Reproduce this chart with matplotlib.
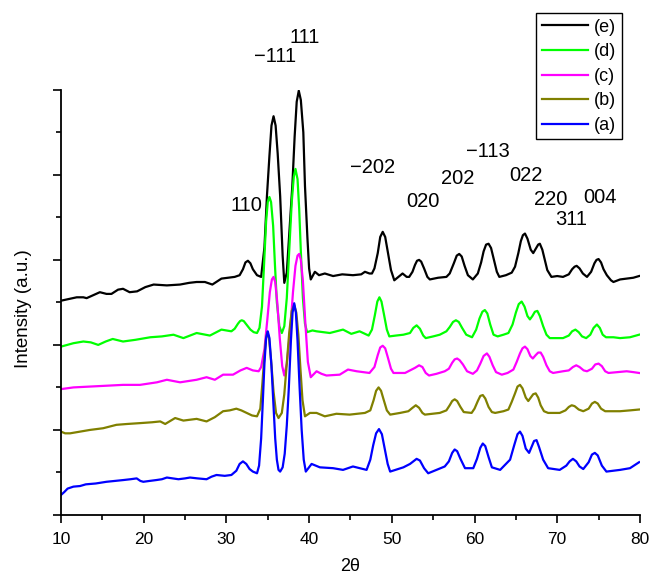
import matplotlib.pyplot as plt
from matplotlib.ticker import MultipleLocator

plt.rcParams['font.family'] = ['Liberation Sans', 'DejaVu Sans']

# (e)
x_e = [10, 11.9, 12.7, 13.1, 14.7, 15.5, 16.1, 16.9, 17.5, 18.3, 19.2, 20.2, 21.2, 22.8, 24.4, 25.5,
       26.4, 27.4, 28.3, 29.4, 31.0, 31.6, 32.0, 32.3, 32.6, 32.9, 33.2, 33.7, 34.2,
       34.6, 34.9, 35.2, 35.45, 35.7, 35.95, 36.2, 36.5, 36.8, 37.0,
       37.3, 37.6, 37.97, 38.25, 38.5, 38.75, 39.0, 39.3, 39.5, 39.8, 40.0, 40.2,
       40.7, 41.2, 41.9, 42.9, 44.0, 45.3, 46.3, 46.75, 47.3, 47.6,
       47.9, 48.3, 48.6, 48.9, 49.2, 49.5, 49.9, 50.3, 50.8, 51.3, 51.8, 52.1,
       52.5, 52.8, 53.05, 53.3, 53.55, 53.9, 54.3, 54.6, 55.6, 56.6,
       57.0, 57.5, 57.85, 58.15, 58.45, 58.8, 59.2, 59.8,
       60.4, 60.8, 61.1, 61.4, 61.7, 62.0, 62.3, 62.7, 63.0, 63.8, 64.5,
       64.9, 65.3, 65.6, 65.85, 66.1, 66.4, 66.8, 67.1, 67.4, 67.7, 67.9, 68.2, 68.5, 68.8, 69.3,
       70.0, 70.7, 71.4, 71.8, 72.1, 72.35, 72.7, 73.1, 73.6,
       74.1, 74.5, 74.75, 75.0, 75.3, 75.6, 76.0, 76.5, 76.8, 77.6, 78.4, 79.2, 79.9]
y_e = [2.52, 2.56, 2.56, 2.55, 2.62, 2.60, 2.60, 2.65, 2.66, 2.62, 2.63, 2.68, 2.71, 2.70, 2.71, 2.73,
       2.74, 2.74, 2.71, 2.78, 2.80, 2.82, 2.89, 2.97, 2.99, 2.96, 2.89, 2.82, 2.80,
       3.15, 3.75, 4.22, 4.58, 4.69, 4.58, 4.25, 3.75, 3.05, 2.73,
       2.85, 3.30, 3.87, 4.45, 4.86, 4.99, 4.88, 4.50, 3.87, 3.25, 2.90, 2.77,
       2.86, 2.82, 2.84, 2.81, 2.83, 2.82, 2.83, 2.86, 2.84, 2.84,
       2.90, 3.08, 3.27, 3.33, 3.27, 3.10, 2.88, 2.76, 2.80, 2.84, 2.80, 2.80,
       2.86, 2.94, 2.99, 3.00, 2.98, 2.90, 2.80, 2.77, 2.79, 2.80,
       2.84, 2.96, 3.05, 3.07, 3.04, 2.93, 2.82, 2.77,
       2.84, 2.97, 3.10, 3.18, 3.19, 3.14, 3.02, 2.86, 2.80, 2.82, 2.85,
       2.92, 3.08, 3.22, 3.29, 3.31, 3.25, 3.12, 3.08, 3.13, 3.18, 3.19, 3.12, 3.00, 2.88, 2.80,
       2.81, 2.80, 2.83, 2.89, 2.92, 2.93, 2.90, 2.84, 2.80,
       2.86, 2.96, 3.00, 3.01, 2.97, 2.89, 2.82, 2.76, 2.74, 2.77, 2.78, 2.79, 2.81]

# (d)
x_d = [10, 11.5, 12.7, 13.6, 14.5, 15.4, 16.25, 17.5, 19.0, 20.8, 22.2, 23.6, 24.8, 26.4, 28.0, 29.4,
       30.6, 31.0, 31.4, 31.65, 31.85, 32.1, 32.5, 32.9, 33.3, 33.7,
       34.0, 34.3, 34.55, 34.8, 35.0, 35.2, 35.4, 35.65, 35.87, 36.1, 36.4, 36.7,
       37.0, 37.3, 37.6, 37.9, 38.15, 38.35, 38.6, 38.8, 39.0, 39.25, 39.5, 39.75,
       40.4, 40.9, 41.7, 42.5, 43.3, 44.1, 45.1, 46.1, 47.2,
       47.6, 47.95, 48.25, 48.5, 48.75, 49.05, 49.4, 49.7, 50.5, 51.4,
       52.2, 52.6, 53.0, 53.4, 53.8, 54.1, 55.0, 55.8, 56.6,
       57.0, 57.4, 57.75, 58.1, 58.5, 59.0, 59.7,
       60.2, 60.6, 60.95, 61.25, 61.55, 61.9, 62.3, 62.8, 63.5, 64.1,
       64.6, 65.0, 65.35, 65.7, 66.05, 66.4, 66.7, 67.0, 67.3, 67.6, 67.9, 68.3, 68.7, 69.1, 70.0, 70.7,
       71.4, 71.8, 72.2, 72.6, 73.0, 73.5,
       74.0, 74.4, 74.8, 75.15, 75.5, 75.9, 76.8, 77.6, 78.8, 79.9]
y_d = [1.98, 2.02, 2.04, 2.03, 2.00, 2.04, 2.07, 2.04, 2.06, 2.09, 2.10, 2.12, 2.08, 2.14, 2.11, 2.18,
       2.16, 2.19, 2.25, 2.28, 2.29, 2.28, 2.23, 2.18, 2.15, 2.14,
       2.20, 2.45, 2.94, 3.45, 3.68, 3.74, 3.68, 3.40, 2.94, 2.50, 2.22, 2.14,
       2.22, 2.55, 3.12, 3.68, 3.98, 4.07, 3.95, 3.60, 3.10, 2.55, 2.25, 2.15,
       2.17, 2.16, 2.15, 2.14, 2.16, 2.18, 2.13, 2.16, 2.11,
       2.18, 2.35, 2.51, 2.56, 2.51, 2.36, 2.18, 2.10, 2.11, 2.12,
       2.14, 2.20, 2.23, 2.19, 2.11, 2.08, 2.10, 2.12, 2.16,
       2.21, 2.27, 2.29, 2.27, 2.20, 2.12, 2.09,
       2.18, 2.31, 2.39, 2.41, 2.37, 2.24, 2.12, 2.10, 2.12, 2.14,
       2.24, 2.38, 2.48, 2.51, 2.45, 2.34, 2.30, 2.34, 2.39, 2.40, 2.34, 2.22, 2.12, 2.08, 2.08, 2.08,
       2.11, 2.16, 2.18, 2.15, 2.10, 2.08,
       2.12, 2.20, 2.24, 2.20, 2.12, 2.09, 2.09, 2.08, 2.09, 2.12]

# (c)
x_c = [10, 11.5, 13.5, 15.5, 17.5, 19.55, 21.6, 22.8, 24.4, 26.4, 27.6, 28.6, 29.6, 30.8, 31.7, 32.45,
       33.2, 33.9, 34.2, 34.6, 34.95, 35.25, 35.5, 35.7, 35.9, 36.15, 36.45, 36.75, 37.0,
       37.3, 37.7, 38.05, 38.35, 38.6, 38.8, 39.0, 39.25, 39.55, 39.85, 40.2,
       40.9, 41.5, 42.1, 43.7, 44.7, 45.75, 47.3,
       47.9, 48.3, 48.6, 48.9, 49.2, 49.5, 49.9, 50.2, 51.6, 52.4,
       52.8, 53.3, 53.7, 54.1, 54.5, 55.4, 56.4,
       56.9, 57.3, 57.6, 57.9, 58.2, 58.6, 59.1, 59.8,
       60.3, 60.7, 61.1, 61.5, 61.8, 62.2, 62.6, 63.3, 64.0, 64.7,
       65.1, 65.5, 65.8, 66.1, 66.4, 66.75, 67.05, 67.4, 67.7, 68.0, 68.3, 68.7, 69.1, 69.5, 70.7,
       71.4, 71.9, 72.3, 72.7, 73.2, 73.6,
       74.2, 74.6, 75.0, 75.4, 75.8, 76.2, 77.3, 78.4, 79.2, 79.9]
y_c = [1.48, 1.50, 1.51, 1.52, 1.53, 1.53, 1.56, 1.59, 1.56, 1.59, 1.62, 1.59, 1.65, 1.65, 1.70, 1.73,
       1.70, 1.69, 1.74, 1.95, 2.30, 2.62, 2.77, 2.80, 2.74, 2.50, 2.08, 1.75, 1.64,
       1.78, 2.15, 2.62, 2.93, 3.05, 3.07, 3.00, 2.75, 2.25, 1.80, 1.62,
       1.69, 1.66, 1.64, 1.65, 1.71, 1.69, 1.67,
       1.74, 1.88, 1.97, 1.99, 1.96, 1.86, 1.72, 1.67, 1.67, 1.71,
       1.73, 1.76, 1.74, 1.67, 1.64, 1.66, 1.69,
       1.72, 1.79, 1.83, 1.84, 1.82, 1.77, 1.69, 1.66,
       1.70, 1.78, 1.87, 1.90, 1.86, 1.76, 1.68, 1.65, 1.67, 1.71,
       1.80, 1.90, 1.96, 1.98, 1.95, 1.87, 1.84, 1.88, 1.91, 1.91, 1.86, 1.76, 1.69, 1.67, 1.69,
       1.70, 1.74, 1.76, 1.74, 1.70, 1.69,
       1.72, 1.77, 1.78, 1.75, 1.69, 1.67, 1.68, 1.69, 1.68, 1.67]

# (b)
x_b = [10, 10.5, 11.1, 12.3, 13.5, 15.1, 16.7, 18.0, 19.55, 21.0, 22.0, 22.6, 23.8, 24.8, 25.6, 26.4,
       27.6, 28.6, 29.6, 30.4, 31.2, 31.8, 32.45, 33.1, 33.7,
       34.1, 34.35, 34.6, 34.8, 34.95, 35.15, 35.4, 35.7, 36.0, 36.3,
       36.7, 37.0, 37.3, 37.6, 37.9, 38.2, 38.45, 38.7, 38.95, 39.2, 39.5,
       40.1, 40.9, 41.9, 43.3, 44.9, 46.75,
       47.4, 47.8, 48.1, 48.4, 48.7, 49.0, 49.4, 49.8, 51.0, 52.0,
       52.5, 52.9, 53.3, 53.7, 54.0, 55.8, 56.6,
       57.0, 57.3, 57.6, 57.9, 58.3, 58.7, 59.65,
       60.0, 60.4, 60.7, 61.0, 61.3, 61.7, 62.1, 62.5, 63.5, 64.1,
       64.5, 64.9, 65.2, 65.5, 65.8, 66.2, 66.5, 66.8, 67.1, 67.4, 67.7, 68.0, 68.4, 68.9, 70.3,
       71.0, 71.4, 71.75, 72.1, 72.6, 73.15,
       73.8, 74.2, 74.55, 74.9, 75.3, 75.8, 77.6, 78.8, 79.9]
y_b = [0.98, 0.96, 0.96, 0.98, 1.00, 1.02, 1.06, 1.07, 1.08, 1.09, 1.10, 1.07, 1.14, 1.11, 1.12, 1.13,
       1.10, 1.15, 1.22, 1.23, 1.25, 1.23, 1.20, 1.17, 1.16,
       1.25, 1.55, 1.88, 2.08, 2.15, 2.08, 1.82, 1.45, 1.20, 1.14,
       1.20, 1.42, 1.78, 2.15, 2.40, 2.47, 2.38, 2.12, 1.72, 1.35, 1.16,
       1.20, 1.20, 1.16, 1.19, 1.18, 1.20,
       1.23, 1.35, 1.46, 1.50, 1.46, 1.36, 1.23, 1.18, 1.20, 1.22,
       1.26, 1.29, 1.26, 1.20, 1.18, 1.20, 1.23,
       1.29, 1.34, 1.36, 1.34, 1.27, 1.21, 1.20,
       1.25, 1.34, 1.40, 1.41, 1.37, 1.27, 1.21, 1.20, 1.22, 1.24,
       1.33, 1.43, 1.51, 1.53, 1.49, 1.38, 1.34, 1.38, 1.42, 1.43, 1.38, 1.29, 1.22, 1.20, 1.20,
       1.23, 1.27, 1.29, 1.28, 1.24, 1.22,
       1.25, 1.31, 1.33, 1.31, 1.25, 1.22, 1.22, 1.23, 1.24]

# (a)
x_a = [10, 10.4, 10.8, 11.5, 12.3, 13.0, 14.2, 15.5, 16.5, 17.5, 18.4, 19.15, 19.6, 19.95, 20.7, 21.5,
       22.2, 22.8, 23.5, 24.2, 25.0, 25.6, 26.5, 27.6, 28.2, 28.8, 29.8, 30.6,
       31.2, 31.6, 32.0, 32.4, 32.8, 33.2, 33.7,
       33.95, 34.2, 34.4, 34.6, 34.8, 35.0, 35.2, 35.45, 35.67, 35.9, 36.1, 36.3, 36.5,
       36.8, 37.05, 37.3, 37.55, 37.8, 38.0, 38.2, 38.4, 38.6, 38.85, 39.1, 39.35, 39.6,
       40.3, 41.3, 42.9, 44.1, 45.3, 46.95,
       47.4, 47.75, 48.1, 48.45, 48.8, 49.1, 49.5, 49.8, 51.4, 52.2,
       52.6, 53.0, 53.4, 53.9, 54.4, 55.4, 56.4,
       56.9, 57.3, 57.6, 57.9, 58.3, 58.85, 59.85,
       60.3, 60.7, 61.0, 61.3, 61.7, 62.1, 63.1,
       64.3, 64.8, 65.2, 65.5, 65.8, 66.2, 66.6, 66.9, 67.2, 67.5, 67.8, 68.3, 68.9, 70.3,
       71.1, 71.5, 71.9, 72.3, 72.7, 73.15,
       73.8, 74.2, 74.55, 74.9, 75.4, 75.95, 77.6, 78.8, 79.9]
y_a = [0.235, 0.27, 0.31, 0.333, 0.34, 0.36, 0.37, 0.39, 0.40, 0.41, 0.42, 0.43, 0.40, 0.39, 0.40, 0.41,
       0.42, 0.44, 0.43, 0.42, 0.43, 0.44, 0.43, 0.42, 0.45, 0.47, 0.46, 0.47,
       0.52, 0.60, 0.63, 0.60, 0.54, 0.51, 0.49,
       0.58, 0.90, 1.33, 1.78, 2.08, 2.16, 2.08, 1.75, 1.33, 0.90, 0.65, 0.53, 0.51,
       0.56, 0.72, 1.05, 1.50, 2.05, 2.38, 2.49, 2.38, 2.05, 1.50, 1.00, 0.65, 0.51,
       0.60, 0.56, 0.55, 0.53, 0.57, 0.53,
       0.65, 0.82, 0.96, 1.01, 0.95, 0.80, 0.60, 0.51, 0.56, 0.60,
       0.63, 0.66, 0.64, 0.55, 0.49, 0.53, 0.57,
       0.63, 0.73, 0.77, 0.75, 0.66, 0.55, 0.55,
       0.66, 0.79, 0.84, 0.81, 0.68, 0.56, 0.53,
       0.65, 0.82, 0.95, 0.98, 0.93, 0.78, 0.73, 0.80, 0.87, 0.88, 0.80, 0.65, 0.55, 0.53,
       0.58, 0.63, 0.66, 0.63, 0.57, 0.54,
       0.62, 0.71, 0.73, 0.70, 0.58, 0.51, 0.53, 0.55, 0.62]

# Miller-index labels
hkl = ['111', '\u2212111', '110', '\u2212202', '020', '202', '\u2212113', '022', '220', '311', '004']
hkl_x = [39.5, 35.9, 32.4, 47.7, 53.8, 58.0, 61.6, 66.2, 69.2, 71.7, 75.2]
hkl_y = [5.61, 5.39, 3.64, 4.09, 3.69, 3.96, 4.27, 3.99, 3.71, 3.48, 3.73]

fig = plt.figure(figsize=(6.49, 5.76), dpi=100)
ax = fig.add_axes([0.094, 0.106, 0.892, 0.738])

ax.plot(x_e, y_e, color='black', lw=1.6, label='(e)')
ax.plot(x_d, y_d, color='#00ff00', lw=1.6, label='(d)')
ax.plot(x_c, y_c, color='#ff00ff', lw=1.6, label='(c)')
ax.plot(x_b, y_b, color='#808000', lw=1.6, label='(b)')
ax.plot(x_a, y_a, color='#0000ff', lw=1.6, label='(a)')

for t, tx, ty in zip(hkl, hkl_x, hkl_y):
    ax.text(tx, ty, t, ha='center', va='center', fontsize=14.5, clip_on=False)

ax.set_xlim(10, 80)
ax.set_ylim(0, 5)
ax.xaxis.set_major_locator(MultipleLocator(10))
ax.xaxis.set_minor_locator(MultipleLocator(5))
ax.yaxis.set_major_locator(MultipleLocator(1))
ax.yaxis.set_minor_locator(MultipleLocator(0.5))
ax.tick_params(which='major', direction='out', length=6, width=1.2, labelsize=12.5, pad=6)
ax.tick_params(which='minor', direction='out', length=3.5, width=1.2)
ax.tick_params(axis='y', which='both', labelleft=False)
ax.spines['top'].set_visible(False)
ax.spines['right'].set_visible(False)
ax.spines['left'].set_linewidth(1.3)
ax.spines['bottom'].set_linewidth(1.3)

ax.set_xlabel('2\u03b8', fontsize=13, labelpad=8)
ax.set_ylabel('Intensity (a.u.)', fontsize=13.5)
ax.yaxis.set_label_coords(-0.05, 0.485)

leg = fig.legend(loc='upper right', bbox_to_anchor=(0.958, 0.977), fontsize=13,
                 frameon=True, fancybox=False, framealpha=1, edgecolor='black',
                 handlelength=2.55, labelspacing=0.42, borderpad=0.3, handletextpad=0.35,
                 borderaxespad=0)
leg.get_frame().set_linewidth(1.0)

plt.savefig('out.png', dpi=100)
